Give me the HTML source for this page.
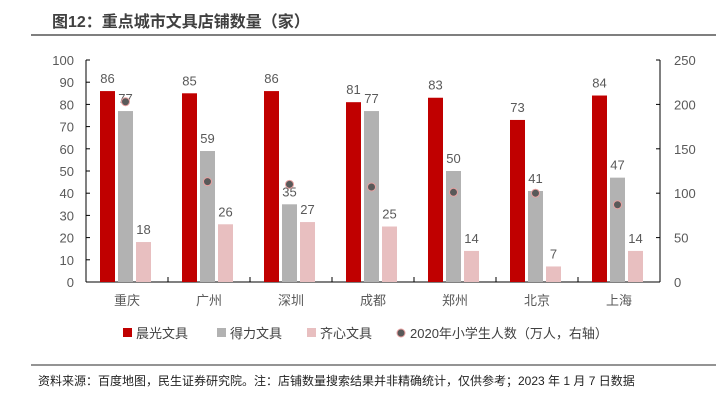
<!DOCTYPE html>
<html><head><meta charset="utf-8"><style>
body{margin:0;background:#fff;width:716px;height:402px;overflow:hidden;font-family:"Liberation Sans","Noto Sans CJK SC",sans-serif;}
svg text{font-family:"Liberation Sans","Noto Sans CJK SC",sans-serif;}
</style></head><body>
<svg id="c" width="716" height="402">
<text x="52" y="27" font-size="16" font-weight="bold" fill="#404040">图12：重点城市文具店铺数量（家）</text>
<line x1="31" y1="35" x2="716" y2="35" stroke="#555" stroke-width="1.5"/>
<line x1="31" y1="365" x2="716" y2="365" stroke="#555" stroke-width="1.2"/>
<text x="38" y="385" font-size="12" fill="#222">资料来源：百度地图，民生证券研究院。注：店铺数量搜索结果并非精确统计，仅供参考；2023 年 1 月 7 日数据</text>
</svg>
<script>
const categories=["重庆","广州","深圳","成都","郑州","北京","上海"];
const chenguang=[86,85,86,81,83,73,84];
const deli=[77,59,35,77,50,41,47];
const qixin=[18,26,27,25,14,7,14];
const students=[203,113,110,107,101,100,87];
const leftTicks=[0,10,20,30,40,50,60,70,80,90,100];
const rightTicks=[0,50,100,150,200,250];
const NS="http://www.w3.org/2000/svg";
const svg=document.getElementById('c');
const X0=86,X1=660,Y0=282,Y1=60;
const bw=(X1-X0)/categories.length;
const yL=v=>Y0-(v/100)*(Y0-Y1);
const yR=v=>Y0-(v/250)*(Y0-Y1);
const xC=i=>X0+bw*(i+0.5);
function mk(t,a){const e=document.createElementNS(NS,t);for(const k in a)e.setAttribute(k,a[k]);svg.appendChild(e);return e;}
function txt(x,y,s,a){const e=mk('text',Object.assign({x:x,y:y,'font-size':13,fill:'#595959'},a));e.textContent=s;return e;}
let e;
e=mk('line',{x1:X0,y1:Y1,x2:X0,y2:Y0,stroke:'#000'});


e=mk('line',{x1:X1,y1:Y1,x2:X1,y2:Y0,stroke:'#000'});


e=mk('line',{x1:X0,y1:Y0,x2:X1,y2:Y0,stroke:'#000'});


leftTicks.forEach(v=>{
 e=mk('line',{x1:X0,y1:yL(v),x2:X0+4,y2:yL(v),stroke:'#000'});
 
 
 e=txt(74,yL(v)+5,v,{'text-anchor':'end'});
 
 
});
rightTicks.forEach(v=>{
 e=mk('line',{x1:X1-4,y1:yR(v),x2:X1,y2:yR(v),stroke:'#000'});
 
 
 e=txt(674,yR(v)+5,v,{});
 
 
});
for(let i=1;i<categories.length;i++){
 e=mk('line',{x1:X0+bw*i,y1:Y0,x2:X0+bw*i,y2:Y0-5,stroke:'#000'});
 
 
}
const BW=15;
categories.forEach((c,i)=>{
 const cx=xC(i)-1.5;
 const series=[[chenguang,'#C00000',-18,'bar-chenguang'],[deli,'#B2B2B2',0,'bar-deli'],[qixin,'#E8BFC0',18,'bar-qixin']];
 series.forEach(s=>{
  const v=s[0][i],bx=cx+s[2]-BW/2;
  e=mk('rect',{x:bx,y:yL(v),width:BW,height:Y0-yL(v),fill:s[1]});
  
  
  e=txt(bx+BW/2,yL(v)-8,v,{'text-anchor':'middle'});
  
  
 });
 e=mk('circle',{cx:cx,cy:yR(students[i]),r:4,fill:'#595959',stroke:'#E8A0A0','stroke-width':1});
 
 
 e=txt(xC(i),305,c,{'text-anchor':'middle'});
 
 
});
const legend=[['晨光文具','#C00000',123,'rect'],['得力文具','#B2B2B2',217,'rect'],['齐心文具','#E8BFC0',307,'rect'],['2020年小学生人数（万人，右轴）','#595959',397,'dot']];
legend.forEach(l=>{
 if(l[3]==='rect'){e=mk('rect',{x:l[2],y:328,width:9,height:9,fill:l[1]});}
 else{e=mk('circle',{cx:l[2]+4,cy:333,r:4,fill:l[1],stroke:'#E8A0A0'});}
 
 
 e=txt(l[2]+13,338,l[0],{'font-size':13,fill:'#404040'});
 
 
});
</script>
</body></html>
